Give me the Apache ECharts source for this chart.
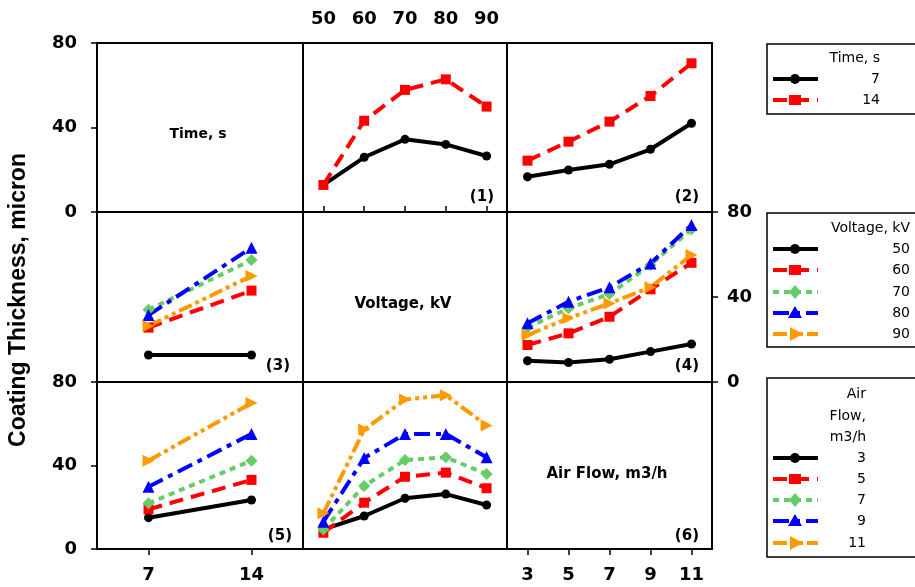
<!DOCTYPE html>
<html><head><meta charset="utf-8">
<script src="https://cdn.jsdelivr.net/npm/echarts@6/dist/echarts.min.js"></script>
<style>html,body{margin:0;padding:0;background:#fff}#c{width:915px;height:587px}</style>
</head><body><div id="c"></div>
<script>
// ---- categories / tick labels ----
const timeCats = ['7', '14'];
const voltCats = ['50', '60', '70', '80', '90'];
const flowCats = ['3', '5', '7', '9', '11'];
const yMin = 0, yMax = 80, yStep = 40;

// ---- data (Coating thickness, micron) ----
// Panel (1): Time series vs Voltage
const t7_volt  = [12.8, 25.9, 34.4, 32.0, 26.5];
const t14_volt = [12.8, 43.2, 57.8, 62.8, 49.9];
// Panel (2): Time series vs Air flow
const t7_flow  = [16.7, 19.9, 22.6, 29.7, 42.0];
const t14_flow = [24.3, 33.3, 42.8, 54.9, 70.4];
// Panel (3): Voltage series vs Time
const v50_time = [12.7, 12.7];
const v60_time = [25.6, 43.0];
const v70_time = [34.0, 57.4];
const v80_time = [31.5, 63.2];
const v90_time = [26.4, 49.9];
// Panel (4): Voltage series vs Air flow
const v50_flow = [10.0, 9.2, 10.7, 14.3, 17.9];
const v60_flow = [17.4, 22.9, 30.7, 43.6, 56.1];
const v70_flow = [25.6, 34.7, 41.4, 55.1, 71.9];
const v80_flow = [27.6, 37.8, 44.6, 55.8, 73.9];
const v90_flow = [22.1, 30.0, 37.0, 44.6, 59.8];
// Panel (5): Air flow series vs Time
const f3_time  = [15.0, 23.5];
const f5_time  = [19.0, 33.1];
const f7_time  = [21.9, 42.3];
const f9_time  = [29.8, 55.1];
const f11_time = [42.3, 69.9];
// Panel (6): Air flow series vs Voltage
const f3_volt  = [9.4, 15.8, 24.3, 26.3, 21.1];
const f5_volt  = [7.8, 22.2, 34.6, 36.6, 29.1];
const f7_volt  = [9.4, 30.2, 42.6, 43.9, 35.9];
const f9_volt  = [13.1, 43.6, 55.1, 55.1, 43.9];
const f11_volt = [17.1, 57.2, 71.6, 73.7, 59.2];

// ---- styles ----
const styles = [
  {color: '#000000', symbol: 'circle', size: 9, rotate: 0, dash: 'solid'},
  {color: '#ff0000', symbol: 'rect', size: 10, rotate: 0, dash: [14, 8]},
  {color: '#66cc66', symbol: 'diamond', size: 12, rotate: 0, dash: [6, 5]},
  {color: '#0000ff', symbol: 'triangle', size: 12, rotate: 0, dash: [16, 6, 5, 6]},
  {color: '#ff9900', symbol: 'triangle', size: 12, rotate: -90, dash: [14, 4, 4, 4, 4, 4]}
];

const colX = [97, 303, 507], colW = [206, 204, 205];
const rowY = [43, 212, 382], rowH = [169, 170, 167];
const colCats = [timeCats, voltCats, flowCats];

const FONT = 'DejaVu Sans';
const labelStyle = {fontFamily: FONT, fontWeight: 'bold', fontSize: 18, color: '#000'};

const grids = [], xAxes = [], yAxes = [], series = [];
for (let r = 0; r < 3; r++) {
  for (let c = 0; c < 3; c++) {
    grids.push({left: colX[c], top: rowY[r], width: colW[c], height: rowH[r],
      show: true, borderColor: '#000', borderWidth: 2, backgroundColor: 'transparent'});
    const gi = r * 3 + c;
    let xShow = false, xPos = 'bottom', xMargin = 17;
    if (r === 0 && c === 1) { xShow = true; xPos = 'top'; xMargin = 15; }
    if (r === 2 && (c === 0 || c === 2)) { xShow = true; }
    xAxes.push({
      type: 'category', gridIndex: gi, data: colCats[c], position: xPos, boundaryGap: true,
      axisLine: {show: false},
      axisTick: {show: xShow, alignWithLabel: true, length: 6, lineStyle: {color: '#000', width: 1.5}},
      axisLabel: Object.assign({show: xShow, margin: xMargin}, labelStyle),
      splitLine: {show: false}
    });
    let yShow = false, yPos = 'left', yMargin = 20;
    if (c === 0 && (r === 0 || r === 2)) { yShow = true; }
    if (c === 2 && r === 1) { yShow = true; yPos = 'right'; yMargin = 15; }
    yAxes.push({
      type: 'value', gridIndex: gi, min: yMin, max: yMax, interval: yStep, position: yPos,
      axisLine: {show: false},
      axisTick: {show: yShow, length: 6, lineStyle: {color: '#000', width: 1.5}},
      axisLabel: Object.assign({show: yShow, margin: yMargin}, labelStyle),
      splitLine: {show: false}
    });
  }
}

function addSeries(gi, names, arrays) {
  arrays.forEach((d, i) => {
    const s = styles[i];
    series.push({
      type: 'line', name: names[i], xAxisIndex: gi, yAxisIndex: gi, data: d,
      symbol: s.symbol, symbolSize: s.size, symbolRotate: s.rotate, showSymbol: true,
      itemStyle: {color: s.color},
      lineStyle: {color: s.color, width: 4, type: s.dash},
      animation: false, silent: true
    });
  });
}
addSeries(1, timeCats, [t7_volt, t14_volt]);
addSeries(2, timeCats, [t7_flow, t14_flow]);
addSeries(3, voltCats, [v50_time, v60_time, v70_time, v80_time, v90_time]);
addSeries(5, voltCats, [v50_flow, v60_flow, v70_flow, v80_flow, v90_flow]);
addSeries(6, flowCats, [f3_time, f5_time, f7_time, f9_time, f11_time]);
addSeries(7, flowCats, [f3_volt, f5_volt, f7_volt, f9_volt, f11_volt]);

// ---- graphics: titles, panel numbers, legends ----
const graphic = [];
function txt(x, y, t, opt) {
  graphic.push({type: 'text', x: x, y: y, rotation: opt.rot || 0, silent: true,
    style: {text: t, fill: '#000', font: opt.font, textAlign: opt.align || 'center', textVerticalAlign: 'middle'}});
}
txt(19, 300, 'Coating Thickness, micron', {font: 'bold 23px "Liberation Sans", Arial', rot: Math.PI / 2});
txt(198, 134, 'Time, s', {font: 'bold 14px "DejaVu Sans"'});
txt(403, 304, 'Voltage, kV', {font: 'bold 15px "DejaVu Sans"'});
txt(607, 474, 'Air Flow, m3/h', {font: 'bold 15px "DejaVu Sans"'});
const panelNums = [['(1)', 494, 197], ['(2)', 699, 197], ['(3)', 290, 366], ['(4)', 699, 366], ['(5)', 292, 536], ['(6)', 699, 536]];
panelNums.forEach(p => txt(p[1], p[2], p[0], {font: 'bold 15px "DejaVu Sans"', align: 'right'}));

function symbolShape(st, cx, cy) {
  const col = st.color;
  if (st.symbol === 'circle') return {type: 'circle', shape: {cx: cx, cy: cy, r: 5}, style: {fill: col}};
  if (st.symbol === 'rect') return {type: 'rect', shape: {x: cx - 6, y: cy - 5, width: 12, height: 10}, style: {fill: col}};
  if (st.symbol === 'diamond') return {type: 'polygon', shape: {points: [[cx, cy - 7], [cx + 6, cy], [cx, cy + 7], [cx - 6, cy]]}, style: {fill: col}};
  if (st.rotate === 0) return {type: 'polygon', shape: {points: [[cx, cy - 7], [cx + 7, cy + 5], [cx - 7, cy + 5]]}, style: {fill: col}};
  return {type: 'polygon', shape: {points: [[cx + 8, cy], [cx - 5, cy - 7], [cx - 5, cy + 7]]}, style: {fill: col}};
}
function legend(boxY, boxH, titles, titleY, names, itemY, rightX) {
  graphic.push({type: 'rect', silent: true, shape: {x: 767, y: boxY, width: 170, height: boxH},
    style: {fill: '#fff', stroke: '#000', lineWidth: 1.5}});
  titles.forEach((t, i) => txt(rightX, titleY[i], t, {font: '14px "DejaVu Sans"', align: 'right'}));
  names.forEach((n, i) => {
    const st = styles[i], y = itemY[i];
    graphic.push({type: 'line', silent: true, shape: {x1: 773, y1: y, x2: 818, y2: y},
      style: {stroke: st.color, lineWidth: 4, lineDash: st.dash === 'solid' ? null : st.dash}});
    const sh = symbolShape(st, 795, y); sh.silent = true; graphic.push(sh);
    txt(rightX, y, n, {font: '14px "DejaVu Sans"', align: 'right'});
  });
}
legend(44, 70, ['Time, s'], [58], timeCats, [79, 100], 880);
legend(213, 134, ['Voltage, kV'], [228], voltCats, [249, 270, 292, 313, 334], 910);
legend(378, 179, ['Air', 'Flow,', 'm3/h'], [394, 416, 437], flowCats, [458, 479, 500, 521, 543], 866);

const chart = echarts.init(document.getElementById('c'), null, {renderer: 'canvas'});
chart.setOption({
  animation: false, backgroundColor: '#fff',
  grid: grids, xAxis: xAxes, yAxis: yAxes, series: series, graphic: graphic
});
</script></body></html>
